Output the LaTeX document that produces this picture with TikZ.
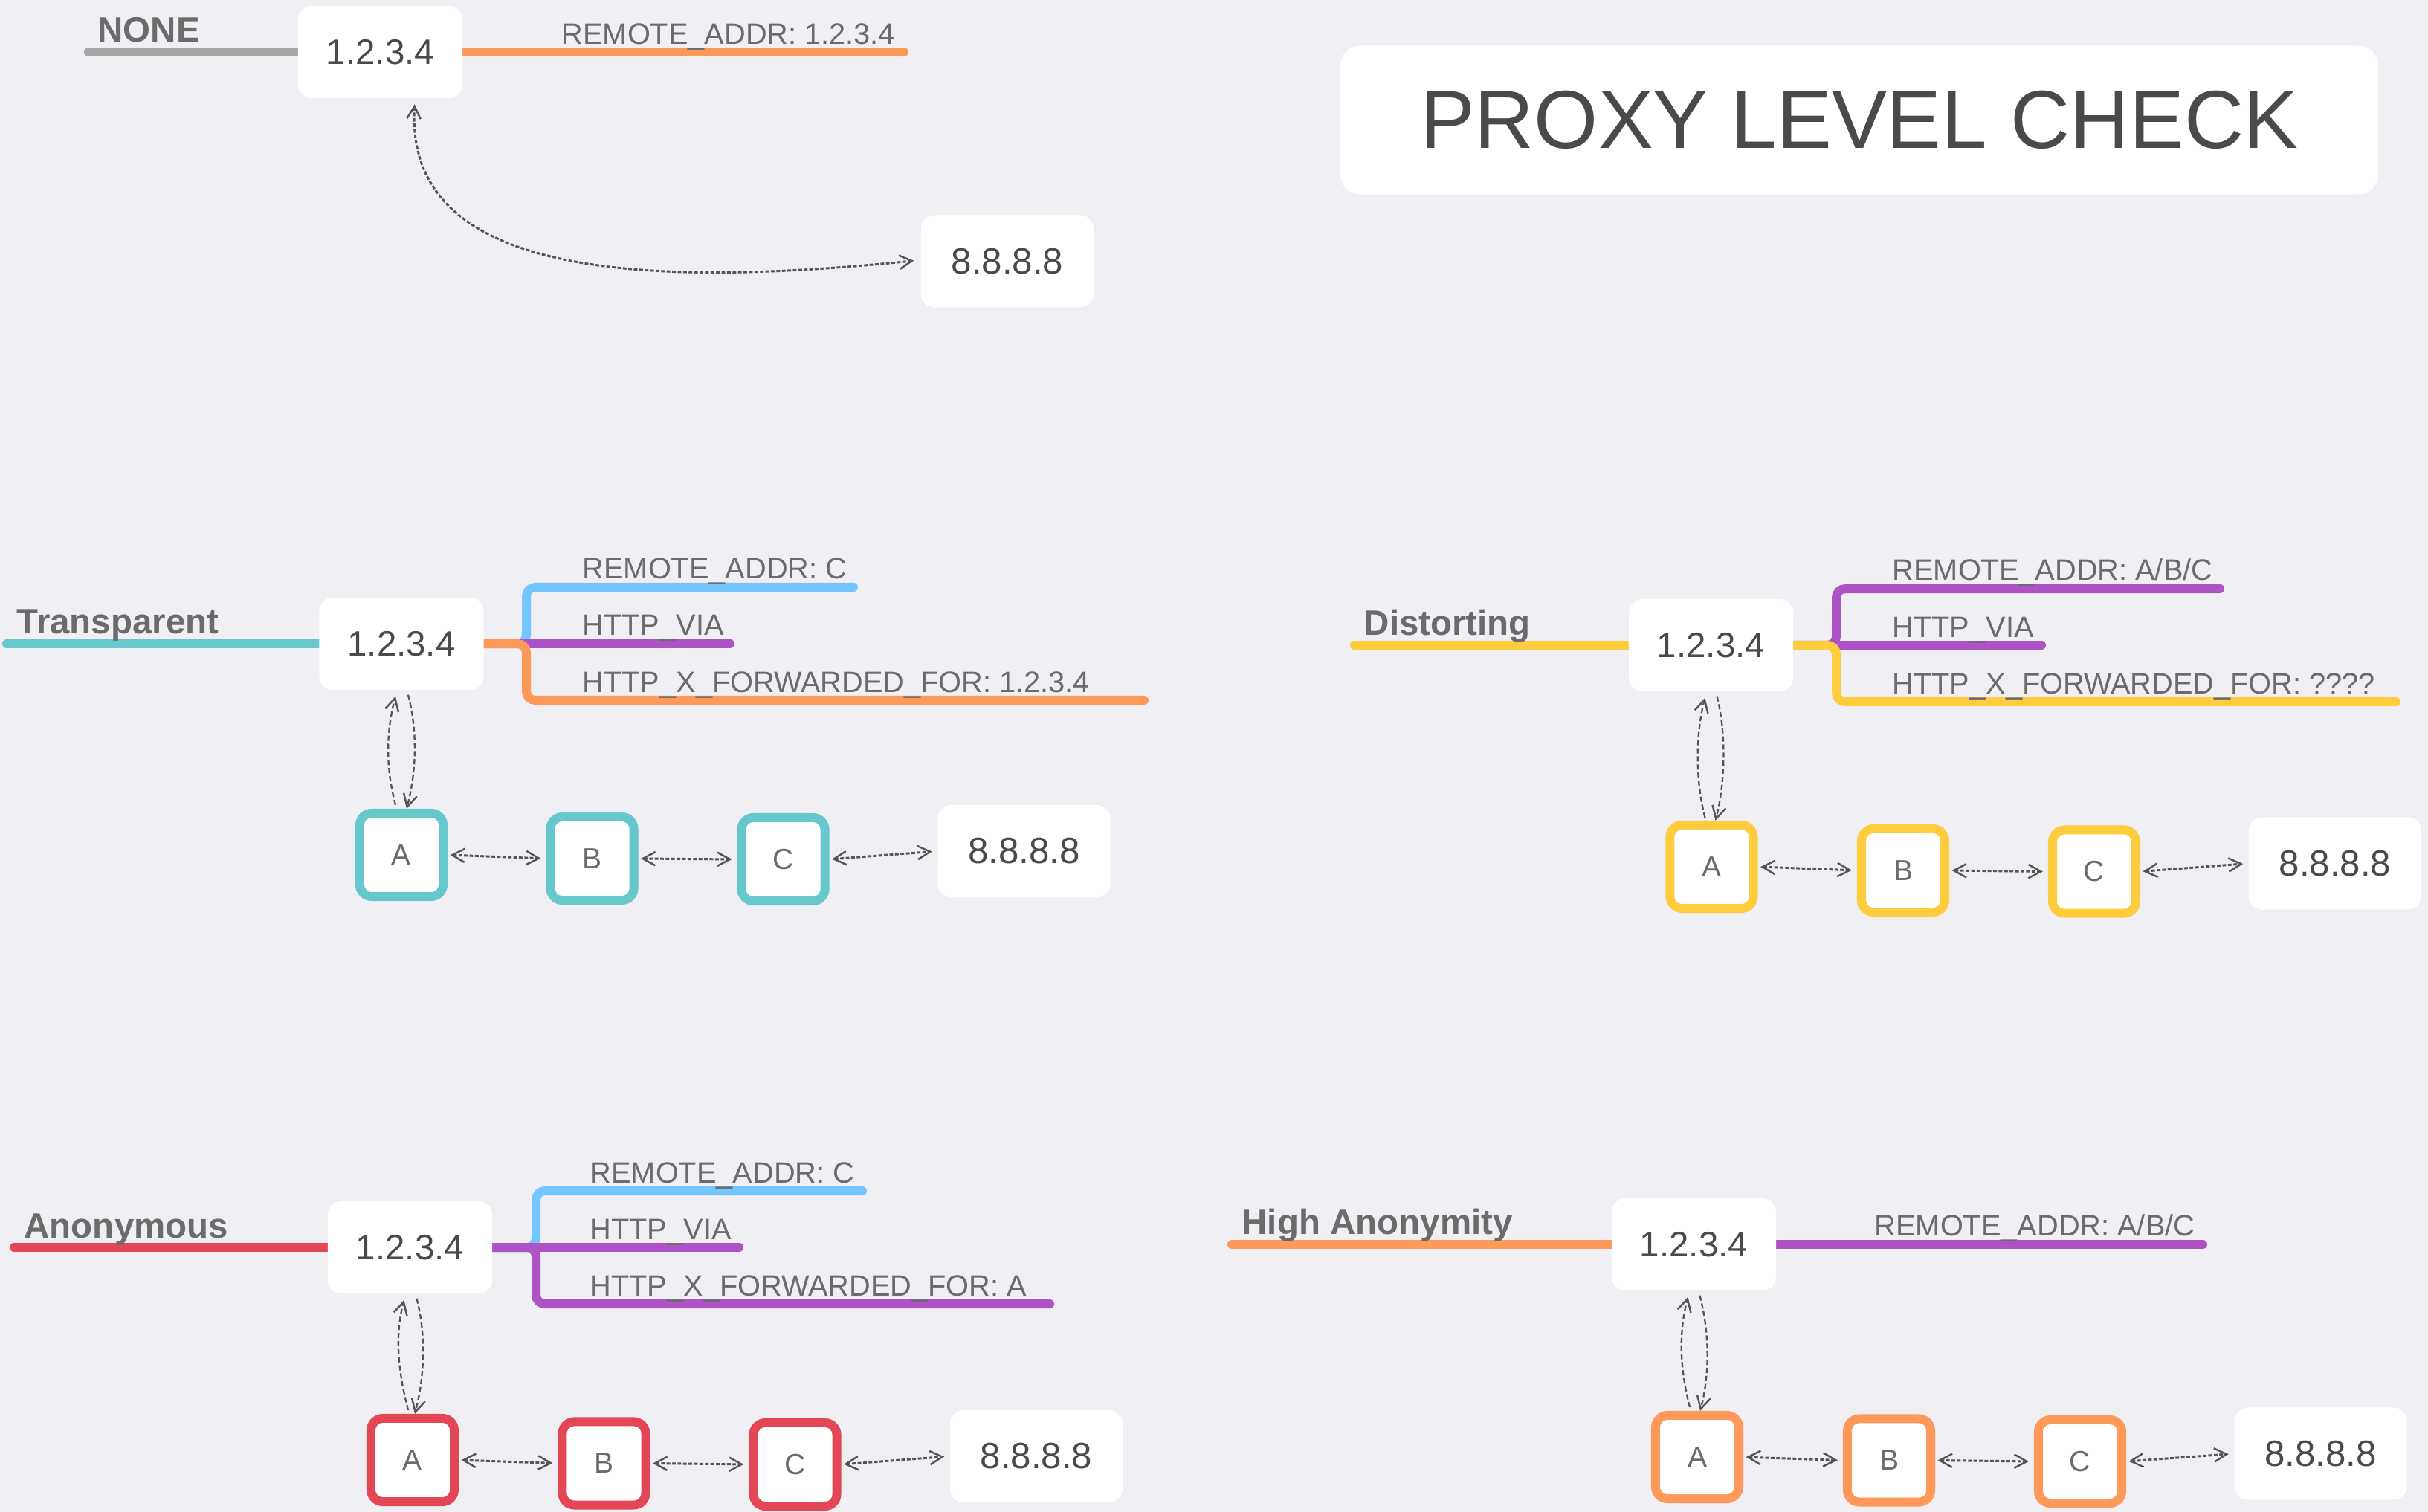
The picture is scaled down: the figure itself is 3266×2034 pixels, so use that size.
\documentclass[tikz,border=0pt]{standalone}
\usepackage{fontspec}
\setmainfont{Liberation Sans}
\usetikzlibrary{arrows.meta,calc}
\definecolor{cBg}{HTML}{EFEFF4}
\definecolor{cTeal}{HTML}{66C8CC}
\definecolor{cOrange}{HTML}{FF995A}
\definecolor{cBlue}{HTML}{73C6FF}
\definecolor{cPurple}{HTML}{AF52C6}
\definecolor{cYellow}{HTML}{FFCC3D}
\definecolor{cRed}{HTML}{E34654}
\definecolor{cGrayBar}{HTML}{A6A6A6}
\definecolor{cLabel}{HTML}{6B6B6B}
\definecolor{cBoxText}{HTML}{4A4A4A}
\definecolor{cArrow}{HTML}{555555}
\pgfdeclarelayer{back}
\pgfdeclarelayer{lines}
\pgfsetlayers{back,lines,main}
\tikzset{
  ipbox/.style={rectangle, fill=white, rounded corners=0.18cm, minimum width=2.21cm,
    minimum height=1.24cm, inner sep=0pt, font=\fontsize{13.5}{16}\selectfont, text=cBoxText},
  dstbox/.style={ipbox, minimum width=2.32cm, font=\fontsize{14}{16}\selectfont},
  hopbox/.style={rectangle, fill=white, draw=#1, line width=0.12cm, rounded corners=0.16cm,
    minimum width=1.12cm, minimum height=1.12cm, inner sep=0pt,
    font=\fontsize{11.1}{13}\selectfont, text=cLabel},
  lvl/.style={anchor=base west, inner sep=0pt, font=\bfseries\fontsize{13.5}{16}\selectfont, text=cLabel},
  hdr/.style={anchor=base west, inner sep=0pt, font=\fontsize{11.3}{13}\selectfont, text=cLabel},
  bar/.style={draw=#1, line width=0.12cm, line cap=round},
  branch/.style={bar=#1, rounded corners=0.12cm},
  tipb/.tip={Straight Barb[length=4.8pt, width=5.2pt, line width=0.7pt]},
  hop/.style={draw=cArrow, line width=0.85pt, dash pattern=on 1.4pt off 0.7pt, tipb-tipb,
    shorten <=1pt, shorten >=2pt},
  lens/.style={draw=cArrow, line width=0.65pt, dash pattern=on 2pt off 1.1pt, -tipb},
}
\begin{document}
\begin{tikzpicture}[x=0.01cm, y=-0.01cm]
\begin{pgfonlayer}{back}
  \fill[cBg] (0,0) rectangle (3266,2034);
\end{pgfonlayer}
\useasboundingbox (0,0) rectangle (3266,2034);

% ---------- Title ----------
\node[ipbox, minimum width=13.95cm, minimum height=2cm, rounded corners=0.26cm,
  font=\fontsize{31.5}{36}\selectfont] (title) at (2501,161.5) {PROXY LEVEL CHECK};

% ---------- NONE ----------
\node[ipbox] (n0) at (511.5,70) {1.2.3.4};
\node[dstbox] (nD) at (1355,351.5) {8.8.8.8};
\node[lvl] (nL) at (131,57) {NONE};
\node[hdr] (nH) at (755,60) {REMOTE\_ADDR: 1.2.3.4};
\coordinate (nS) at (119,70);
\coordinate (nE) at (1216,70);
\begin{pgfonlayer}{lines}
  \draw[bar=cGrayBar] (nS) -- (n0.west);
  \draw[bar=cOrange] (n0.east) -- (nE);
\end{pgfonlayer}
\draw[hop, tipb-tipb] ($(n0.south)+(46.5,4)$) .. controls +(-13,214) and +(-437,45) .. ($(nD.west)+(-2,-1.5)$);

% ---------- Transparent ----------
\node[ipbox] (t0) at (540,866) {1.2.3.4};
\node[hopbox=cTeal] (tA) at (540,1150) {A};
\node[hopbox=cTeal] (tB) at (796.5,1155) {B};
\node[hopbox=cTeal] (tC) at (1053.5,1156) {C};
\node[dstbox] (tD) at (1377.5,1145) {8.8.8.8};
\node[lvl] (tL) at (22,853) {Transparent};
\node[hdr] (t1) at (783,779) {REMOTE\_ADDR: C};
\node[hdr] (t2) at (783,855) {HTTP\_VIA};
\node[hdr] (t3) at (783,931) {HTTP\_X\_FORWARDED\_FOR: 1.2.3.4};
\coordinate (tS) at (9,866);
\coordinate (tE1) at (1148,790);
\coordinate (tE2) at (982,866);
\coordinate (tE3) at (1539,942);
\begin{pgfonlayer}{lines}
  \draw[bar=cTeal] (tS) -- (t0.west);
  \draw[branch=cBlue] (t0.east) -- (708,866) -- (708,790) -- (tE1);
  \draw[branch=cPurple] (t0.east) -- (tE2);
  \draw[branch=cOrange] (t0.east) -- (708,866) -- (708,942) -- (tE3);
\end{pgfonlayer}
\draw[lens] ($(tA.north)+(-8,-5)$) .. controls +(-13,-50) and +(-13,50) .. ($(t0.south)+(-8,8)$);
\draw[lens] ($(t0.south)+(9,6)$) .. controls +(13,50) and +(13,-50) .. ($(tA.north)+(7,0)$);
\draw[hop] (tA.east) -- (tB.west);
\draw[hop] (tB.east) -- (tC.west);
\draw[hop] (tC.east) -- (tD.west);

% ---------- Distorting ----------
\node[ipbox] (d0) at (2301.5,868) {1.2.3.4};
\node[hopbox=cYellow] (dA) at (2302.5,1166) {A};
\node[hopbox=cYellow] (dB) at (2560,1171) {B};
\node[hopbox=cYellow] (dC) at (2817,1172.5) {C};
\node[dstbox] (dD) at (3141,1161.5) {8.8.8.8};
\node[lvl] (dL) at (1834,855) {Distorting};
\node[hdr] (d1) at (2545,781) {REMOTE\_ADDR: A/B/C};
\node[hdr] (d2) at (2545,857) {HTTP\_VIA};
\node[hdr] (d3) at (2545,933) {HTTP\_X\_FORWARDED\_FOR: ????};
\coordinate (dS) at (1822,868);
\coordinate (dE1) at (2986,792);
\coordinate (dE2) at (2746,868);
\coordinate (dE3) at (3223,944);
\begin{pgfonlayer}{lines}
  \draw[bar=cYellow] (dS) -- (d0.west);
  \draw[branch=cPurple] (d0.east) -- (2470,868) -- (2470,792) -- (dE1);
  \draw[branch=cPurple] (d0.east) -- (dE2);
  \draw[branch=cYellow] (d0.east) -- (2470,868) -- (2470,944) -- (dE3);
\end{pgfonlayer}
\draw[lens] ($(dA.north)+(-9,-4)$) .. controls +(-13,-50) and +(-13,50) .. ($(d0.south)+(-8,8)$);
\draw[lens] ($(d0.south)+(8,6)$) .. controls +(13,50) and +(13,-50) .. ($(dA.north)+(5,0)$);
\draw[hop] (dA.east) -- (dB.west);
\draw[hop] (dB.east) -- (dC.west);
\draw[hop] (dC.east) -- (dD.west);

% ---------- Anonymous ----------
\node[ipbox] (a0) at (551.5,1678) {1.2.3.4};
\node[hopbox=cRed] (aA) at (555,1964) {A};
\node[hopbox=cRed] (aB) at (812.5,1968.5) {B};
\node[hopbox=cRed] (aC) at (1069.5,1970) {C};
\node[dstbox] (aD) at (1394,1959) {8.8.8.8};
\node[lvl] (aL) at (32,1665) {Anonymous};
\node[hdr] (a1) at (793,1591) {REMOTE\_ADDR: C};
\node[hdr] (a2) at (793,1667) {HTTP\_VIA};
\node[hdr] (a3) at (793,1743) {HTTP\_X\_FORWARDED\_FOR: A};
\coordinate (aS) at (19,1678);
\coordinate (aE1) at (1160,1602);
\coordinate (aE2) at (994,1678);
\coordinate (aE3) at (1412,1754);
\begin{pgfonlayer}{lines}
  \draw[bar=cRed] (aS) -- (a0.west);
  \draw[branch=cBlue] (a0.east) -- (721,1678) -- (721,1602) -- (aE1);
  \draw[branch=cPurple] (a0.east) -- (aE2);
  \draw[branch=cPurple] (a0.east) -- (721,1678) -- (721,1754) -- (aE3);
\end{pgfonlayer}
\draw[lens] ($(aA.north)+(-6,-5)$) .. controls +(-13,-50) and +(-13,50) .. ($(a0.south)+(-8,8)$);
\draw[lens] ($(a0.south)+(9,6)$) .. controls +(13,50) and +(13,-50) .. ($(aA.north)+(3,0)$);
\draw[hop] (aA.east) -- (aB.west);
\draw[hop] (aB.east) -- (aC.west);
\draw[hop] (aC.east) -- (aD.west);

% ---------- High Anonymity ----------
\node[ipbox] (h0) at (2278.5,1674) {1.2.3.4};
\node[hopbox=cOrange] (hA) at (2283,1960) {A};
\node[hopbox=cOrange] (hB) at (2541,1964.5) {B};
\node[hopbox=cOrange] (hC) at (2798,1966) {C};
\node[dstbox] (hD) at (3121.5,1955.5) {8.8.8.8};
\node[lvl] (hL) at (1670,1660) {High Anonymity};
\node[hdr] (h1) at (2521,1662) {REMOTE\_ADDR: A/B/C};
\coordinate (hS) at (1657,1674);
\coordinate (hE) at (2963,1674);
\begin{pgfonlayer}{lines}
  \draw[bar=cOrange] (hS) -- (h0.west);
  \draw[bar=cPurple] (h0.east) -- (hE);
\end{pgfonlayer}
\draw[lens] ($(hA.north)+(-10,-5)$) .. controls +(-13,-50) and +(-13,50) .. ($(h0.south)+(-8,8)$);
\draw[lens] ($(h0.south)+(8,6)$) .. controls +(13,50) and +(13,-50) .. ($(hA.north)+(4,0)$);
\draw[hop] (hA.east) -- (hB.west);
\draw[hop] (hB.east) -- (hC.west);
\draw[hop] (hC.east) -- (hD.west);
\end{tikzpicture}
\end{document}
